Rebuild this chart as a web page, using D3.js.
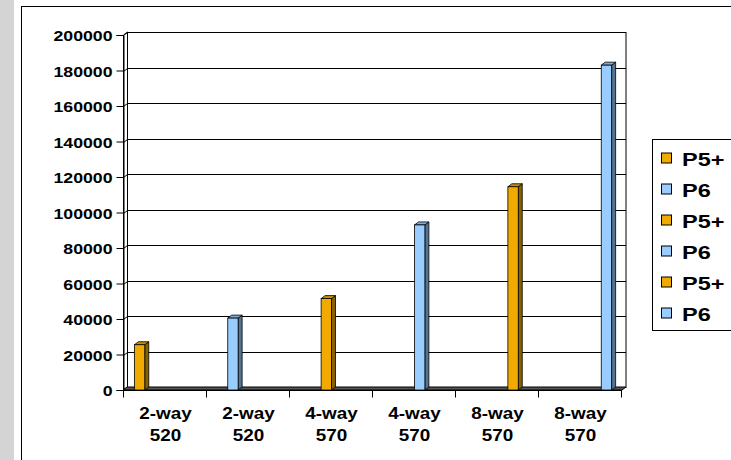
<!DOCTYPE html>
<html>
<head>
<meta charset="utf-8">
<script src="https://cdn.jsdelivr.net/npm/d3@7"></script>
<style>
  body { margin: 0; background: #fff; }
  svg text { font-family: "Liberation Sans", Arial, sans-serif; font-weight: bold; fill: #000; }
</style>
</head>
<body>
<div class="container"></div>
<script>
const WIDTH = 731;
const HEIGHT = 460;

// data
const categories = ["2-way 520", "2-way 520", "4-way 570", "4-way 570", "8-way 570", "8-way 570"];
const seriesNames = ["P5+", "P6", "P5+", "P6", "P5+", "P6"];
const seriesColors = ["#F0AA00", "#99CCFF", "#F0AA00", "#99CCFF", "#F0AA00", "#99CCFF"];
const series1 = [25500, 0, 0, 0, 0, 0];
const series2 = [0, 40500, 0, 0, 0, 0];
const series3 = [0, 0, 51500, 0, 0, 0];
const series4 = [0, 0, 0, 93000, 0, 0];
const series5 = [0, 0, 0, 0, 114500, 0];
const series6 = [0, 0, 0, 0, 0, 183000];
const yTicks = [0, 20000, 40000, 60000, 80000, 100000, 120000, 140000, 160000, 180000, 200000];

const allSeries = [series1, series2, series3, series4, series5, series6];

// 3d depth of walls and bars
const DX = 4, DY = -3;
const SX = 1.18; // horizontal stretch of the excel text

var translate = function(x, y){
  return "translate(" + x + "," + y + ")";
};

var shade = function(c, k){
  return d3.color(c).darker(k).formatHex();
};

var svg = d3.select('.container').append('svg')
  .attr('width', WIDTH)
  .attr('height', HEIGHT);

// grey strip + chart area
svg.append('rect').attr('x', 0).attr('y', 0).attr('width', 14).attr('height', HEIGHT).attr('fill', '#d4d4d4');
svg.append('rect').attr('x', 21.5).attr('y', 6.5).attr('width', 800).attr('height', 500)
  .attr('fill', '#fff').attr('stroke', '#000');

var xScale = d3.scaleBand()
  .domain(d3.range(categories.length))
  .range([124, 622]);

var xInner = d3.scaleBand()
  .domain(d3.range(allSeries.length))
  .range([0, xScale.bandwidth()])
  .paddingInner(0)
  .paddingOuter(1);

var yScale = d3.scaleLinear()
  .domain([0, 200000])
  .range([390, 35]);

var x0 = xScale.range()[0] - 1, x1 = xScale.range()[1] - 1;
var yTop = yScale(200000), yBase = yScale(0);

// back wall
svg.append('rect')
  .attr('x', x0 + DX + 0.5).attr('y', yTop + DY + 0.5)
  .attr('width', x1 - x0 + 0.5).attr('height', yBase - yTop)
  .attr('fill', '#fff').attr('stroke', '#000');

// side wall
svg.append('path')
  .attr('d', `M${x0 + 0.5},${yBase}L${x0 + 0.5},${yTop}L${x0 + DX + 0.5},${yTop + DY}L${x0 + DX + 0.5},${yBase + DY}Z`)
  .attr('fill', '#fff').attr('stroke', '#000');

// gridlines on back wall and side wall
svg.selectAll('.grid')
  .data(yTicks)
  .enter().append('path')
  .attr('class', 'grid')
  .attr('d', d => {
    var y = Math.round(yScale(d)) + 0.5;
    return `M${x0 + 0.5},${y}L${x0 + DX + 0.5},${y + DY}L${x1 + DX + 1},${y + DY}`;
  })
  .attr('fill', 'none').attr('stroke', '#000');

// floor
svg.append('path')
  .attr('d', `M${x0},${yBase}L${x1 + 1},${yBase}L${x1 + DX + 1},${yBase + DY}L${x0 + DX},${yBase + DY}Z`)
  .attr('fill', '#555').attr('stroke', '#000');

// y axis
var yAxis = d3.axisLeft(yScale).tickValues(yTicks).tickSize(7).tickFormat(d3.format('d'));
var gy = svg.append('g')
  .attr('transform', translate(x0 + 0.5, 0))
  .call(yAxis);
gy.select('.domain').attr('stroke', '#000');
gy.selectAll('.tick line').attr('stroke', '#000');
gy.selectAll('.tick text')
  .attr('font-size', 15)
  .attr('x', 0).attr('dy', 0)
  .attr('transform', 'translate(-11,5.5) scale(' + SX + ',1)')
  .attr('font-family', null)
  .attr('fill', '#000');

// x axis
var xAxisScale = d3.scaleLinear().domain([0, categories.length]).range(xScale.range());
var gx = svg.append('g')
  .attr('transform', translate(0, yBase + 0.5));
gx.append('line').attr('x1', x0).attr('x2', x1 + 1).attr('y1', 0).attr('y2', 0).attr('stroke', '#000');
gx.selectAll('.xtick')
  .data(d3.range(categories.length + 1))
  .enter().append('line')
  .attr('class', 'xtick')
  .attr('x1', d => Math.round(xAxisScale(d)) - 0.5)
  .attr('x2', d => Math.round(xAxisScale(d)) - 0.5)
  .attr('y1', 0).attr('y2', 7)
  .attr('stroke', '#000');

var catLabels = svg.selectAll('.cat')
  .data(categories)
  .enter().append('g')
  .attr('class', 'cat')
  .attr('transform', (d, i) => translate(xScale(i) + xScale.bandwidth() / 2, 0));
catLabels.each(function(d){
  var parts = d.split(' ');
  var g = d3.select(this);
  parts.forEach(function(p, k){
    g.append('text')
      .attr('text-anchor', 'middle')
      .attr('font-size', 16)
      .attr('transform', translate(0, 419 + k * 22) + ' scale(' + SX + ',1)')
      .text(p);
  });
});

// bars (3d columns)
var bars = svg.append('g');
allSeries.forEach(function(vals, s){
  var c = seriesColors[s];
  vals.forEach(function(v, i){
    if (!v) return;
    var bx = xScale(i) + xInner(s);
    var bw = xInner.bandwidth();
    var by = yScale(v);
    var g = bars.append('g');
    // side face
    g.append('path')
      .attr('d', `M${bx + bw},${yBase}L${bx + bw},${by}L${bx + bw + DX},${by + DY}L${bx + bw + DX},${yBase + DY}Z`)
      .attr('fill', shade(c, 1.6)).attr('stroke', '#000').attr('stroke-width', 0.8);
    // top face
    g.append('path')
      .attr('d', `M${bx},${by}L${bx + DX},${by + DY}L${bx + bw + DX},${by + DY}L${bx + bw},${by}Z`)
      .attr('fill', shade(c, 0.5)).attr('stroke', '#000').attr('stroke-width', 0.8);
    // front face
    g.append('rect')
      .attr('x', bx).attr('y', by)
      .attr('width', bw).attr('height', yBase - by)
      .attr('fill', c).attr('stroke', '#000').attr('stroke-width', 0.8);
  });
});

// legend
var legend = svg.append('g');
legend.append('rect')
  .attr('x', 652.5).attr('y', 139.5).attr('width', 120).attr('height', 191)
  .attr('fill', '#fff').attr('stroke', '#000');
var items = legend.selectAll('.item')
  .data(seriesNames)
  .enter().append('g')
  .attr('class', 'item')
  .attr('transform', (d, i) => translate(661, 158.5 + i * 31));
items.append('rect')
  .attr('x', 0.5).attr('y', -5.5).attr('width', 10).attr('height', 10)
  .attr('fill', (d, i) => seriesColors[i]).attr('stroke', '#000');
items.append('text')
  .attr('font-size', 18.5)
  .attr('transform', translate(21, 7) + ' scale(1.27,1)')
  .text(d => d);
</script>
</body>
</html>
